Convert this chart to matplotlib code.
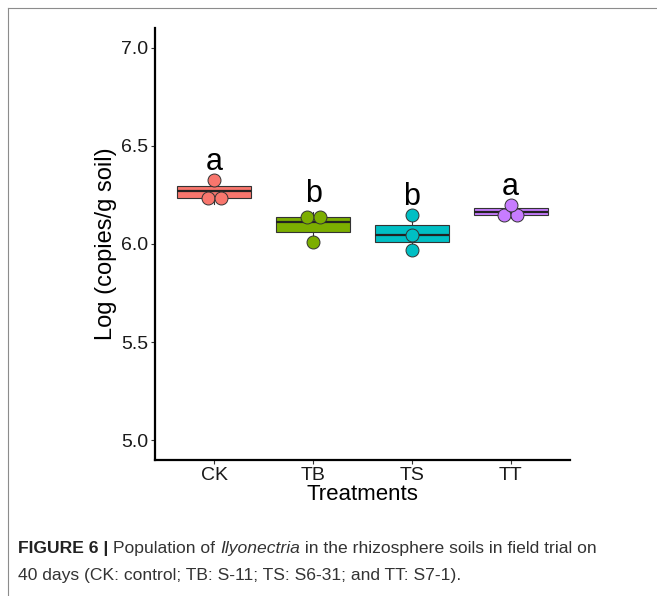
import numpy as np
import matplotlib
matplotlib.use("Agg")
import matplotlib.pyplot as plt
from matplotlib.lines import Line2D

plt.rcParams['font.family'] = ['Liberation Sans', 'DejaVu Sans']

# qPCR results, log copies per g soil, three replicates per treatment
treatments = ['CK', 'TB', 'TS', 'TT']
ck = [6.204, 6.268, 6.326]
tb = [6.012, 6.114, 6.162]
ts = [5.970, 6.046, 6.148]
tt = [6.131, 6.165, 6.200]
groups = [ck, tb, ts, tt]
letters = ['a', 'b', 'b', 'a']
colors = ['#F8766D', '#7CAE00', '#00BFC4', '#C77CFF']

yticks = [5.0, 5.5, 6.0, 6.5, 7.0]
binwidth = 0.066


def dot_bins(vals, bw):
    # same idea as ggplot's dotdensity binning
    vals = sorted(vals)
    bins = []
    cur = [vals[0]]
    for v in vals[1:]:
        if v >= cur[0] + bw:
            bins.append(cur)
            cur = [v]
        else:
            cur.append(v)
    bins.append(cur)
    return [((b[0] + b[-1]) / 2, len(b)) for b in bins]


W, H, DPI = 657, 596, 100
fig = plt.figure(figsize=(W / DPI, H / DPI), dpi=DPI)
ax = fig.add_axes([155 / W, 1 - 460 / H, (570 - 155) / W, (460 - 28) / H])

pos = np.arange(1, len(treatments) + 1)
ax.set_xlim(0.4, 4.6)
ax.set_ylim(4.9, 7.1)

bp = ax.boxplot(groups, positions=pos, widths=0.75, patch_artist=True,
                showcaps=False, showfliers=False, whis=1.5,
                boxprops=dict(linewidth=0.8, edgecolor='#333333'),
                whiskerprops=dict(linewidth=0.8, color='#333333'),
                medianprops=dict(linewidth=1.6, color='#222222'))
for patch, c in zip(bp['boxes'], colors):
    patch.set_facecolor(c)

# dot diameter = binwidth in y units, converted to pixels / x units
p0 = ax.transData.transform((1, 6.0))
p1 = ax.transData.transform((1, 6.0 + binwidth))
d_px = p1[1] - p0[1]
inv = ax.transData.inverted()
dx = inv.transform((p0[0] + d_px, p0[1]))[0] - inv.transform(p0)[0]
s = (d_px * 72 / DPI) ** 2

for x, vals, c in zip(pos, groups, colors):
    for yc, n in dot_bins(vals, binwidth):
        offs = (np.arange(n) - (n - 1) / 2) * dx
        ax.scatter(x + offs, [yc] * n, s=s, color=c,
                   edgecolors='#333333', linewidths=0.7, zorder=5)

for x, vals, lab in zip(pos, groups, letters):
    ax.text(x, max(vals) + 0.05, lab, ha='center', va='baseline',
            fontsize=22, color='black')

ax.set_xticks(pos)
ax.set_xticklabels(treatments)
ax.set_yticks(yticks)
ax.set_yticklabels([f'{v:.1f}' for v in yticks])
ax.tick_params(labelsize=14, length=3, width=0.8, color='#333333',
               pad=2, labelcolor='#1a1a1a')
for side in ['top', 'right']:
    ax.spines[side].set_visible(False)
for side in ['left', 'bottom']:
    ax.spines[side].set_linewidth(1.6)
    ax.spines[side].set_color('black')

ax.set_xlabel('Treatments', fontsize=16, labelpad=0)
ax.set_ylabel('Log (copies/g soil)', fontsize=17, labelpad=3)

# frame lines of the figure panel
fig.add_artist(Line2D([8 / W, 1], [1 - 8 / H, 1 - 8 / H],
                      transform=fig.transFigure, color='#8c8c8c', lw=0.8))
fig.add_artist(Line2D([8 / W, 8 / W], [0, 1 - 8 / H],
                      transform=fig.transFigure, color='#8c8c8c', lw=0.8))

# caption with mixed font styles
renderer = fig.canvas.get_renderer()


def caption_line(parts, x_px, base_px, size=12.6):
    x = x_px
    for txt, style in parts:
        kw = dict(fontsize=size, color='#333333', va='baseline', ha='left')
        if style == 'bold':
            kw.update(fontweight='bold', color='#222222')
        elif style == 'italic':
            kw.update(fontstyle='italic')
        t = fig.text(x / W, 1 - base_px / H, txt, **kw)
        x += t.get_window_extent(renderer).width


caption_line([('FIGURE 6 | ', 'bold'), ('Population of ', None),
              ('Ilyonectria', 'italic'),
              (' in the rhizosphere soils in field trial on', None)], 18, 553)
caption_line([('40 days (CK: control; TB: S-11; TS: S6-31; and TT: S7-1).', None)],
             18, 580)

fig.savefig('out.png', dpi=DPI)
